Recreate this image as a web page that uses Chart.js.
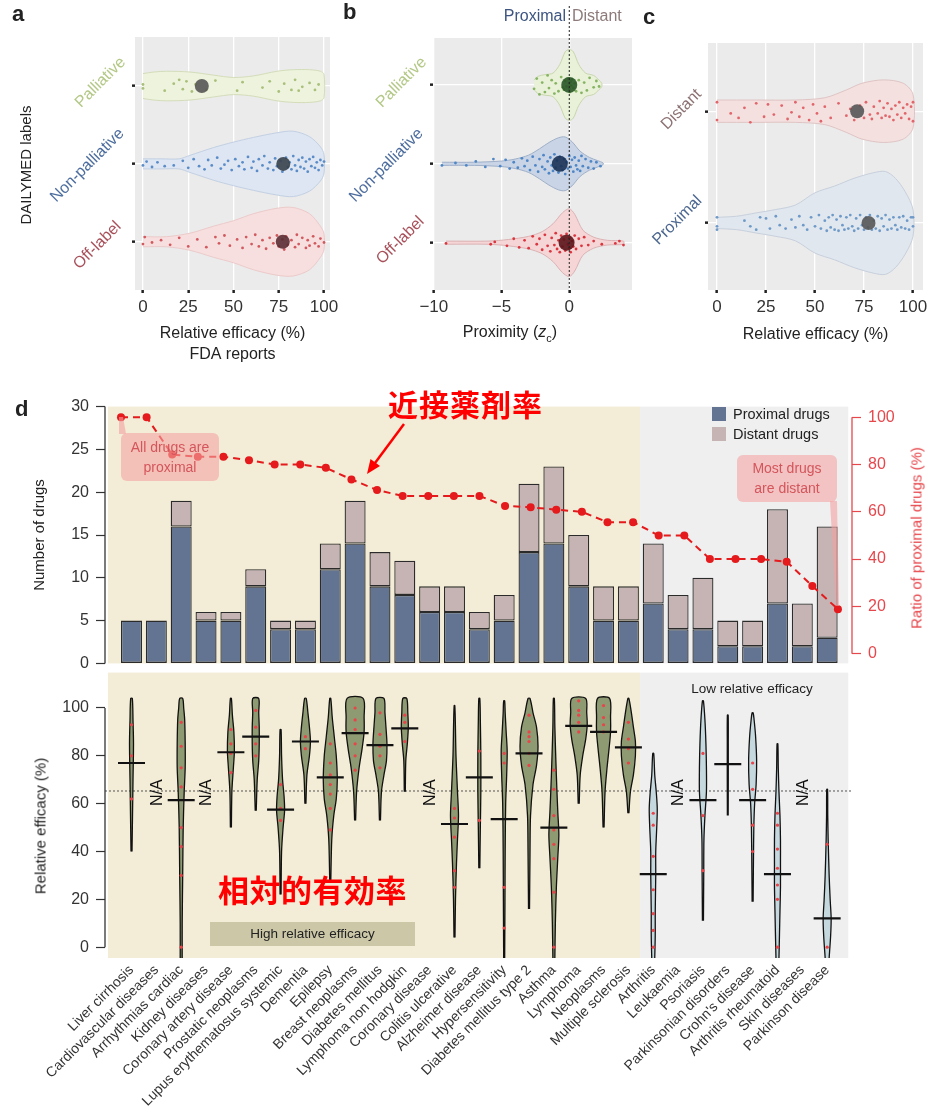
<!DOCTYPE html>
<html><head><meta charset="utf-8">
<script src="https://cdn.jsdelivr.net/npm/chart.js@4.4.1/dist/chart.umd.min.js"></script>
<style>
html,body{margin:0;padding:0}
body{width:929px;height:1115px;position:relative;background:#fff;overflow:hidden;font-family:"Liberation Sans",Arial,Helvetica,sans-serif;color:#222}
canvas{position:absolute}
.t{position:absolute;white-space:nowrap;line-height:1}
.c{transform:translate(-50%,-50%)}
.r45{transform:translate(-50%,-50%) rotate(-45deg)}
.r90{transform:translate(-50%,-50%) rotate(-90deg)}
.box{position:absolute;background:rgba(244,165,163,0.6);border-radius:6px;color:#d4555c;font-size:14px;text-align:center;line-height:20px}
.cjk{position:absolute;font-family:"Noto Sans CJK JP","Noto Sans CJK SC",sans-serif;font-weight:bold;color:#ff0000;white-space:nowrap;line-height:1}
</style></head>
<body>
<canvas id="ca" width="345" height="370" style="left:0;top:0"></canvas>
<canvas id="cb" width="300" height="350" style="left:340px;top:0"></canvas>
<canvas id="cc" width="300" height="350" style="left:635px;top:0"></canvas>
<canvas id="cd1" width="929" height="290" style="left:0;top:390px"></canvas>
<canvas id="cd2" width="929" height="459" style="left:0;top:656px"></canvas>
<div id="overlay"></div>
<script>
// ================= DATA =================
// panels a / b : DAILYMED label groups
const abCategories = ['Palliative', 'Non-palliative', 'Off-label'];
const aMeans = [32.5, 77.5, 77.2];
const bMeans = [0.0, -0.7, -0.2];
// violin outlines: [value, half-width (category units)]
const aProfiles = [
  [[0,0.16],[6,0.18],[13,0.19],[26,0.18],[39,0.14],[50,0.11],[61,0.13],[74,0.19],[83,0.21],[92,0.21],[98,0.19],[100,0.15]],
  [[0,0.065],[10,0.065],[20,0.065],[26,0.11],[39,0.21],[50,0.28],[61,0.34],[74,0.4],[83,0.42],[92,0.35],[98,0.22],[100,0.12]],
  [[0,0.065],[13,0.065],[26,0.11],[39,0.2],[50,0.27],[61,0.36],[74,0.43],[83,0.44],[92,0.36],[98,0.2],[100,0.1]]
];
const bProfiles = [
  [[-2.6,0.06],[-2.3,0.11],[-1.8,0.13],[-1.2,0.15],[-0.7,0.26],[-0.3,0.42],[0,0.45],[0.3,0.42],[0.7,0.26],[1.2,0.15],[1.8,0.12],[2.2,0.06],[2.4,0.02]],
  [[-9.4,0.02],[-7,0.02],[-5,0.035],[-4,0.06],[-3,0.11],[-2.2,0.19],[-1.5,0.27],[-0.8,0.33],[-0.3,0.34],[0.2,0.28],[0.8,0.16],[1.5,0.08],[2.1,0.04],[2.5,0.01]],
  [[-9.1,0.02],[-6,0.02],[-4.5,0.04],[-3,0.08],[-2,0.14],[-1.2,0.24],[-0.5,0.38],[0,0.43],[0.4,0.36],[1,0.16],[1.8,0.07],[2.8,0.03],[4,0.02]]
];
// individual drugs: [value, jitter]
const aPoints = [
  [[0,-0.02],[0,0.03],[12,0.06],[17,-0.03],[20,-0.08],[22,0.04],[24,-0.06],[27,0.07],[29,-0.02],[35,0.05],[40,-0.07],[52,0.06],[55,-0.05],[66,0.02],[70,-0.06],[75,0.07],[78,-0.03],[82,0.05],[84,-0.08],[86,0.06],[88,0.01],[92,-0.04],[95,0.05],[97,-0.02]],
  [[0,0.02],[2,-0.03],[5,0.04],[8,-0.02],[12,0.03],[17,0.02],[22,-0.04],[25,0.05],[28,-0.06],[31,0.03],[34,0.07],[36,-0.05],[38,0.02],[41,-0.08],[43,0.06],[45,0.01],[47,-0.04],[49,0.08],[51,-0.06],[53,0.03],[55,-0.02],[56,0.07],[58,-0.09],[60,0.05],[61,-0.03],[63,0.09],[64,-0.06],[66,0.02],[67,-0.1],[69,0.06],[70,-0.02],[72,0.08],[73,-0.07],[74,0.03],[76,-0.04],[77,0.1],[79,-0.08],[80,0.04],[81,-0.02],[82,0.07],[83,-0.1],[84,0.02],[85,0.09],[86,-0.05],[87,0.04],[88,-0.08],[89,0.06],[90,-0.03],[91,0.1],[92,-0.06],[93,0.03],[94,-0.09],[95,0.05],[96,-0.02],[97,0.08],[98,-0.05],[99,0.02],[100,-0.03]],
  [[0,0.03],[1,-0.06],[5,0.01],[10,-0.02],[15,0.04],[20,-0.05],[25,0.06],[30,-0.03],[35,0.07],[40,-0.06],[42,0.02],[45,-0.08],[48,0.05],[52,-0.03],[55,0.08],[57,-0.06],[60,0.03],[62,-0.09],[64,0.06],[66,-0.02],[68,0.09],[70,-0.05],[72,0.02],[74,-0.08],[75,0.06],[77,-0.03],[78,0.1],[79,-0.07],[80,0.04],[82,-0.02],[84,0.07],[85,-0.09],[86,0.03],[88,-0.05],[90,0.08],[91,-0.02],[92,0.05],[94,-0.07],[95,0.02],[97,0.06],[98,-0.04],[100,0.01]]
];
const bPoints = [
  [[-2.6,0.05],[-2.4,-0.08],[-2.2,0.12],[-2,-0.03],[-1.8,0.09],[-1.6,-0.12],[-1.5,0.04],[-1.3,-0.06],[-1.1,0.11],[-1,-0.02],[-0.8,0.08],[-0.6,-0.1],[-0.5,0.03],[-0.4,0.06],[-0.3,-0.05],[-0.2,0.02],[-0.1,-0.08],[0,0.05],[0,-0.02],[0.05,0.09],[0.1,-0.04],[0.15,0.01],[0.2,-0.07],[0.3,0.04],[0.4,-0.02],[0.5,0.08],[0.7,-0.06],[0.9,0.1],[1.1,-0.03],[1.3,0.07],[1.5,-0.09],[1.8,0.03],[2,-0.05],[2.2,0.02]],
  [[-9.4,0.02],[-8.4,-0.01],[-7.6,0.02],[-6.9,-0.03],[-6.2,0.04],[-5.6,-0.06],[-5.1,0.03],[-4.7,-0.05],[-4.4,0.06],[-4.1,-0.02],[-3.8,0.05],[-3.5,-0.07],[-3.3,0.03],[-3.1,-0.04],[-2.9,0.08],[-2.7,-0.09],[-2.5,0.02],[-2.3,0.1],[-2.2,-0.06],[-2,0.04],[-1.9,-0.11],[-1.8,0.07],[-1.6,-0.03],[-1.5,0.12],[-1.4,-0.08],[-1.3,0.02],[-1.2,0.09],[-1.1,-0.12],[-1,0.05],[-0.9,-0.04],[-0.8,0.11],[-0.7,-0.09],[-0.6,0.03],[-0.5,0.08],[-0.4,-0.06],[-0.3,0.13],[-0.2,-0.02],[-0.1,0.06],[0,-0.1],[0.1,0.04],[0.2,-0.05],[0.3,0.1],[0.4,-0.08],[0.5,0.02],[0.6,0.07],[0.7,-0.04],[0.8,0.09],[0.9,-0.1],[1,0.03],[1.2,-0.06],[1.4,0.05],[1.6,-0.03],[1.8,0.06],[2,-0.02],[2.3,0.03]],
  [[-9.1,0.01],[-5.8,0.02],[-5.5,-0.01],[-4.6,0.04],[-4.1,-0.05],[-3.7,0.06],[-3.3,-0.03],[-3,0.07],[-2.7,-0.08],[-2.4,0.02],[-2.2,-0.05],[-2,0.09],[-1.8,-0.1],[-1.6,0.04],[-1.4,0.11],[-1.3,-0.06],[-1.1,0.03],[-1,-0.12],[-0.9,0.08],[-0.8,-0.03],[-0.7,0.12],[-0.6,-0.09],[-0.5,0.05],[-0.4,-0.04],[-0.3,0.1],[-0.2,-0.11],[-0.1,0.02],[0,0.07],[0,-0.06],[0.1,0.12],[0.2,-0.02],[0.3,0.05],[0.4,-0.09],[0.5,0.08],[0.7,-0.05],[0.9,0.04],[1.1,-0.07],[1.4,0.03],[1.8,-0.02],[2.4,0.02],[3.4,0.01],[3.7,-0.02],[4,0.03]]
];
// panel c : proximity groups
const cCategories = ['Distant', 'Proximal'];
const cMeans = [71.5, 77.3];
const cProfiles = [
  [[0,0.1],[20,0.1],[40,0.1],[55,0.12],[66,0.19],[74,0.25],[85,0.28],[95,0.25],[100,0.15]],
  [[0,0.05],[10,0.06],[20,0.09],[30,0.12],[40,0.16],[50,0.27],[60,0.33],[70,0.4],[80,0.45],[86,0.46],[91,0.4],[96,0.28],[100,0.12]]
];
const cPoints = [
  [[0,0.08],[0,-0.08],[7,0.02],[11,0.06],[14,-0.03],[17,0.1],[20,-0.07],[24,0.05],[26,-0.06],[29,0.03],[33,-0.05],[36,0.07],[38,0.01],[40,-0.08],[42,0.05],[44,-0.03],[47,0.08],[49,-0.06],[51,0.02],[53,0.09],[55,-0.04],[58,0.06],[62,-0.07],[66,0.04],[68,-0.02],[70,0.08],[73,-0.05],[75,0.06],[76,-0.08],[78,0.03],[79,0.07],[80,-0.04],[82,0.02],[83,-0.09],[84,0.06],[85,-0.03],[86,0.04],[87,-0.07],[88,0.05],[89,-0.02],[90,0.08],[91,-0.05],[92,0.03],[93,-0.08],[94,0.06],[95,-0.03],[96,0.02],[97,-0.06],[98,0.07],[99,-0.04],[100,0.09],[100,-0.08]],
  [[0,0.03],[0,-0.05],[0,0.06],[14,-0.02],[17,0.03],[20,0.06],[22,-0.05],[25,-0.04],[27,0.05],[30,-0.06],[32,0.02],[35,0.05],[38,-0.03],[40,0.04],[42,-0.06],[44,0.02],[46,0.06],[48,-0.05],[50,0.03],[52,-0.07],[53,0.05],[55,-0.02],[56,0.07],[57,-0.05],[58,0.04],[59,-0.07],[60,0.06],[61,-0.03],[62,0.07],[63,-0.06],[64,0.02],[65,0.06],[66,-0.05],[67,0.05],[68,-0.07],[69,0.03],[70,0.07],[71,-0.04],[72,0.05],[73,-0.07],[74,0.02],[75,0.06],[76,-0.05],[77,0.04],[78,-0.07],[79,0.06],[80,-0.02],[81,0.05],[82,-0.06],[83,0.07],[84,-0.04],[85,0.03],[86,-0.07],[87,0.06],[88,-0.03],[89,0.05],[90,-0.05],[91,0.02],[92,0.06],[93,-0.05],[94,0.04],[95,-0.06],[96,0.05],[97,-0.02],[98,0.06],[99,-0.05],[100,0.03],[100,-0.05]]
];
// panel d : diseases
const diseases = ['Liver cirrhosis','Cardiovascular diseases','Arrhythmias cardiac','Kidney diseases','Coronary artery disease','Prostatic neoplasms','Lupus erythematosus systemic','Dementia','Epilepsy','Breast neoplasms','Diabetes mellitus','Lymphoma non hodgkin','Coronary disease','Colitis ulcerative','Alzheimer disease','Hypersensitivity','Diabetes mellitus type 2','Asthma','Lymphoma','Neoplasms','Multiple sclerosis','Arthritis','Leukaemia','Psoriasis','Parkinsonian disorders',"Crohn's disease",'Arthritis rheumatoid','Skin diseases','Parkinson disease'];
const proximalDrugs = [5,5,16,5,5,9,4,4,11,14,9,8,6,6,4,5,13,14,9,5,5,7,4,4,2,2,7,2,3];
const distantDrugs  = [0,0,3,1,1,2,1,1,3,5,4,4,3,3,2,3,8,9,6,4,4,7,4,6,3,3,11,5,13];
const proximalRatio = [100,100,84.2,83.3,83.3,81.8,80,80,78.6,73.7,69.2,66.7,66.7,66.7,66.7,62.5,61.9,60.9,60,55.6,55.6,50,50,40,40,40,38.9,28.6,18.8];
const efficacyMedian = [77,null,61.5,null,81.5,88,57.5,86,71,89.5,84.5,91.5,null,51.5,71,53.5,81,50,92.5,90,83.5,30.5,null,61.5,76.5,61.5,30.5,null,12];
const efficacyDots = [[93,80,62],[],[94,84,75,67,50,42,30,0],[],[91,85,81,73],[99,92,85,80],[68,58,53],[88,83],[85,77,72,68,64,58,49],[100,95,91,85,80,74],[98,89,84,80,75],[97,94,86],[],[58,54,46,32,25],[82,53],[81,77,25,8],[97,90,88,86,81,76],[74,66,55,49,43,37,23,0],[103,99,97,94,90],[101,96,93,90],[94,87,83,77],[56,51,38,24,14,7,0],[],[81,55,32],[],[77,66,51,40],[56,51,41,33,26,20,0],[],[43,0]];
// violin outlines of relative efficacy: [value, half-width density]
const efficacyProfiles = [
  [[40,0.5],[55,1],[70,1.5],[85,2],[95,1.5],[104,0.8]],
  null,
  [[-4.5,1],[10,1],[30,1.5],[50,2],[65,3],[75,4],[85,4],[95,3.5],[100,2.5],[104,1.5]],
  null,
  [[50,0.5],[65,1],[75,2.5],[82,3.5],[90,3],[97,1.5],[104,0.5]],
  [[57,0.5],[70,1.5],[78,3],[85,3.5],[92,3.5],[98,3],[104,3]],
  [[22,0.5],[40,1],[50,2.5],[57,4],[63,3.5],[70,2],[80,1],[91,0.5]],
  [[60,0.5],[72,1.5],[80,4],[86,5],[92,4],[98,2.5],[104,0.8]],
  [[27,0.5],[45,1.5],[55,3.5],[62,6],[70,7],[80,6],[88,4],[96,2],[104,0.5]],
  [[53,0.5],[65,1.5],[75,4],[83,7],[90,9],[96,9],[104,8]],
  [[53,0.5],[65,1.5],[72,4],[78,6.5],[85,7],[92,6],[98,5],[104,4]],
  [[65,0.5],[78,1],[85,2.5],[92,3.5],[98,3],[104,2]],
  null,
  [[4,0.5],[20,1],[35,2],[45,3],[55,4],[65,3],[80,1.5],[95,0.8],[101,0.3]],
  [[33,0.5],[50,1],[65,1.5],[80,1.5],[95,1],[104,0.5]],
  [[-4.5,0.5],[20,0.8],[40,1],[60,1.5],[72,2.5],[82,3],[90,2],[98,1],[103,0.5]],
  [[16,0.5],[40,1],[55,1.5],[68,4],[76,7.5],[84,9],[92,7.5],[98,4],[104,1]],
  [[-4.5,1],[10,1.5],[25,2.5],[38,4],[47,5],[56,4],[66,3],[78,2],[92,1],[104,0.5]],
  [[60,0.5],[72,1.5],[80,4],[87,7],[93,8.5],[98,8],[104,7]],
  [[50,0.5],[65,1.5],[75,3.5],[83,5.5],[90,7],[96,7],[104,6]],
  [[56,0.5],[65,2],[72,5],[80,7],[86,7],[92,5],[98,3],[104,0.5]],
  [[-4.5,1.5],[5,2],[15,2],[30,2.5],[40,2.5],[50,3.5],[58,4],[65,3],[72,1.5],[81,0.5]],
  null,
  [[11,0.5],[30,0.8],[45,1],[55,2],[65,3.5],[75,3.5],[85,3],[95,2],[103,0.5]],
  [[55,0.4],[70,0.5],[85,0.5],[97,0.4]],
  [[19,0.5],[35,0.8],[50,1.2],[60,2],[68,3.5],[78,4],[88,3],[95,1.5],[98,0.5]],
  [[-4.5,1.5],[5,2],[15,2.5],[25,3],[35,3],[45,3],[55,2.5],[65,1.5],[75,0.8],[85,0.4]],
  null,
  [[-4.5,2],[5,3.5],[12,4],[20,3],[30,2],[45,1],[55,0.6],[66,0.4]]
];
const efficacyThreshold = 65.3;
const leftTicksTop = [0,5,10,15,20,25,30];
const rightTicksTop = [0,20,40,60,80,100];
const efficacyTicks = [0,20,40,60,80,100];
const aTicks = [0,25,50,75,100];
const bTicks = [-10,-5,0];

// ================= STYLE / HELPERS =================
const FONT = '"Liberation Sans", Arial, Helvetica, sans-serif';
Chart.defaults.font.family = FONT;
Chart.defaults.color = '#333';
Chart.defaults.animation = false;
Chart.defaults.responsive = false;
Chart.defaults.plugins.legend.display = false;
Chart.defaults.plugins.tooltip.enabled = false;

const setTicks = vals => s => { s.ticks = vals.map(v => ({value: v})); };
const minus = v => v < 0 ? '\u2212' + Math.abs(v) : String(v);

const panelBg = {id:'panelBg', beforeDraw(chart, args, o){ if(!o || !o.color) return; const a=chart.chartArea, c=chart.ctx; c.save(); c.fillStyle=o.color; c.fillRect(a.left,a.top,a.width,a.height); c.restore(); }};
const zeroLine = {id:'zeroLine', afterDatasetsDraw(chart, args, o){ if(!o || o.value===undefined) return; const c=chart.ctx, x=chart.scales.x.getPixelForValue(o.value); c.save(); c.strokeStyle='#222'; c.lineWidth=1; c.setLineDash([2,2]); c.beginPath(); c.moveTo(x,o.from); c.lineTo(x,chart.chartArea.bottom); c.stroke(); c.restore(); }};
const bands = {id:'bands', beforeDatasetsDraw(chart, args, o){ if(!o || !o.items) return; const c=chart.ctx, xs=chart.scales.x, a=chart.chartArea; c.save(); o.items.forEach(b=>{ const x0=xs.getPixelForValue(b.from), x1=xs.getPixelForValue(b.to); c.fillStyle=b.color; c.fillRect(x0,a.top,x1-x0,a.height); }); c.restore(); }};
const axisLines = {id:'axisLines', afterDraw(chart, args, o){ if(!o || !o.items) return; const c=chart.ctx; c.save(); o.items.forEach(l=>{ const s=chart.scales[l.scale]; const x = l.side==='left' ? s.right : s.left; c.strokeStyle=l.color; c.lineWidth=1.3; c.beginPath(); c.moveTo(x, s.getPixelForValue(l.from)); c.lineTo(x, s.getPixelForValue(l.to)); c.stroke(); }); c.restore(); }};
const naLabels = {id:'naLabels', afterDatasetsDraw(chart, args, o){ if(!o || !o.items) return; const c=chart.ctx, xs=chart.scales.x, ys=chart.scales.y; c.save(); c.fillStyle='#111'; c.font='16px '+FONT; c.textAlign='center'; c.textBaseline='middle'; o.items.forEach(i=>{ c.save(); c.translate(xs.getPixelForValue(i)+1, ys.getPixelForValue(o.at)); c.rotate(-Math.PI/2); c.fillText('N/A',0,0); c.restore(); }); c.restore(); }};
Chart.register(panelBg, zeroLine, bands, axisLines, naLabels);

function hViolin(profile, c){
  const up = profile.map(([x,w]) => ({x, y: c - w}));
  const dn = profile.slice().reverse().map(([x,w]) => ({x, y: c + w}));
  return up.concat(dn);
}
function vViolin(profile, c, k){
  const r = profile.map(([y,w]) => ({x: c + w/k, y}));
  const l = profile.slice().reverse().map(([y,w]) => ({x: c - w/k, y}));
  return r.concat(l);
}
function groupSets(profile, pts, mean, c, st){
  return [
    {data: hViolin(profile, c), showLine:true, fill:'shape', backgroundColor:st.fill, borderColor:st.line, borderWidth:1, pointRadius:0, tension:0.3, order:3},
    {data: pts.map(([x,d]) => ({x, y: c + d})), pointRadius:1.4, pointBackgroundColor:st.pt, pointBorderWidth:0, order:2},
    {data: [{x: mean, y: c}], pointRadius:st.mr, pointBackgroundColor:st.mean, pointBorderWidth:0, order:1}
  ];
}
function smallOptions(o){
  return {
    layout:{padding:{top:o.top, right:o.right, bottom:2, left:0}},
    plugins:{panelBg:{color:'#ebebeb'}, zeroLine:o.zero||{}},
    scales:{
      x:{type:'linear', min:o.xmin, max:o.xmax, afterBuildTicks:setTicks(o.xticks), afterFit:s=>{s.height=o.xh;},
         ticks:{font:{size:17}, color:'#333', padding:4, callback:v=>minus(v)},
         grid:{color:'#ffffff', lineWidth:1.3, tickColor:'#222', tickLength:3, tickWidth:2.5},
         border:{display:false},
         title: o.xtitle ? {display:true, text:o.xtitle, font:{size:16, lineHeight:1.3}, color:'#222', padding:{top:0,bottom:3}} : {display:false}},
      y:{type:'linear', reverse:true, min:o.ymin, max:o.ymax, afterBuildTicks:setTicks(o.yticks), afterFit:s=>{s.width=o.yw;},
         ticks:{display:false}, grid:{color:'#ffffff', lineWidth:1.3, tickColor:'#222', tickLength:3, tickWidth:2.5}, border:{display:false}}
    }
  };
}

// ---------- panel a ----------
const aStyles = [
  {fill:'#eef3de', line:'#d3ddb9', pt:'#a9c07a', mean:'rgba(85,85,85,0.9)', mr:7},
  {fill:'#dde6f2', line:'#c3d0e3', pt:'#5b8cc8', mean:'rgba(55,65,75,0.9)', mr:7},
  {fill:'#f8dfdf', line:'#eccaca', pt:'#d05a5f', mean:'rgba(90,45,52,0.9)', mr:7}
];
new Chart(document.getElementById('ca'), {
  type:'scatter',
  data:{datasets: abCategories.flatMap((n,i) => groupSets(aProfiles[i], aPoints[i], aMeans[i], i+1, aStyles[i]))},
  options: smallOptions({top:37, right:15, xmin:-4.4, xmax:103.3, xticks:aTicks, xh:78, xtitle:['Relative efficacy (%)','FDA reports'], ymin:0.37, ymax:3.62, yticks:[1,2,3], yw:135})
});
// ---------- panel b ----------
const bStyles = [
  {fill:'#e9f2d9', line:'#c8d6ad', pt:'#87b463', mean:'rgba(40,85,38,0.9)', mr:8},
  {fill:'#c9d5e6', line:'#9fb0c9', pt:'#4f86c6', mean:'rgba(25,50,85,0.9)', mr:8},
  {fill:'#f5d5d6', line:'#dcb2b4', pt:'#d9363f', mean:'rgba(90,20,25,0.9)', mr:8}
];
new Chart(document.getElementById('cb'), {
  type:'scatter',
  data:{datasets: abCategories.flatMap((n,i) => groupSets(bProfiles[i], bPoints[i], bMeans[i], i+1, bStyles[i]))},
  options: smallOptions({top:38, right:8, xmin:-10.06, xmax:4.63, xticks:bTicks, xh:58, ymin:0.405, ymax:3.6, yticks:[1,2,3], yw:93, zero:{value:0, from:6}})
});
// ---------- panel c ----------
const cStyles = [
  {fill:'#f5e0e0', line:'#e0c4c4', pt:'#e0666b', mean:'rgba(85,85,85,0.9)', mr:7},
  {fill:'#e1e7ef', line:'#c7d0dc', pt:'#6f9ac8', mean:'rgba(85,85,85,0.9)', mr:7}
];
new Chart(document.getElementById('cc'), {
  type:'scatter',
  data:{datasets: cCategories.flatMap((n,i) => groupSets(cProfiles[i], cPoints[i], cMeans[i], i+1, cStyles[i]))},
  options: smallOptions({top:43, right:12, xmin:-4.6, xmax:105.1, xticks:aTicks, xh:58, xtitle:'Relative efficacy (%)', ymin:0.39, ymax:2.6, yticks:[1,2], yw:73})
});

// ---------- panel d (top) ----------
const DX = {min:-1.067, max:29.0};
const bandItems = [{from:-0.95, to:20.47, color:'#f3ecd6'}, {from:20.47, to:28.85, color:'#efefef'}];
const RED = '#e6474c';
const barStyle = {borderColor:'#2b2b2b', borderWidth:1.3, borderSkipped:false, grouped:false, barPercentage:0.85, categoryPercentage:1, maxBarThickness:21, order:1};
new Chart(document.getElementById('cd1'), {
  type:'bar',
  data:{datasets:[
    {type:'line', label:'Ratio of proximal drugs', data: proximalRatio.map((v,i)=>({x:i,y:v})), xAxisID:'x2', yAxisID:'y1',
     borderColor:'#e41a1c', borderWidth:2, borderDash:[7,5], pointRadius:4, pointBackgroundColor:'#e41a1c', pointBorderWidth:0, fill:false, tension:0, order:0},
    Object.assign({label:'Proximal drugs', data: proximalDrugs.map((v,i)=>({x:i,y:v})), backgroundColor:'#627491'}, barStyle),
    Object.assign({label:'Distant drugs', data: distantDrugs.map((v,i)=>({x:i,y:v})), backgroundColor:'#c6b3b4'}, barStyle)
  ]},
  options:{
    layout:{padding:{top:15, bottom:12, left:0, right:0}},
    plugins:{bands:{items:bandItems}, axisLines:{items:[{scale:'y', side:'left', from:0, to:30, color:'#333'}, {scale:'y1', side:'right', from:0, to:100, color:RED}]}},
    scales:{
      x:{type:'linear', min:DX.min, max:DX.max, stacked:true, offset:false, display:false, grid:{offset:false}},
      x2:{type:'linear', min:-0.625, max:28.55, offset:false, display:false, grid:{offset:false}},
      y:{type:'linear', stacked:true, min:0, max:30, position:'left', afterBuildTicks:setTicks(leftTicksTop), afterFit:s=>{s.width=105;},
         ticks:{font:{size:16}, color:'#333', padding:7},
         grid:{drawOnChartArea:false, tickLength:9, tickColor:'#333', tickWidth:1.2},
         border:{display:false},
         title:{display:true, text:'Number of drugs', font:{size:15}, color:'#222', padding:{top:31, bottom:0}}},
      y1:{type:'linear', min:-4.13, max:104.5, position:'right', afterBuildTicks:setTicks(rightTicksTop), afterFit:s=>{s.width=77;},
         ticks:{font:{size:16}, color:RED, padding:7},
         grid:{drawOnChartArea:false, tickLength:9, tickColor:RED, tickWidth:1.2},
         border:{display:false}}
    }
  }
});

// ---------- panel d (bottom) ----------
const VK = 24.84;
const vSets = [];
vSets.push({data:[{x:DX.min,y:efficacyThreshold},{x:DX.max,y:efficacyThreshold}], showLine:true, borderColor:'#555', borderWidth:1, borderDash:[2,2], pointRadius:0, order:10});
efficacyProfiles.forEach((p,i) => {
  if(!p) return;
  vSets.push({data:vViolin(p,i,VK), showLine:true, fill:'shape', backgroundColor: i<=20 ? '#8e9a71' : '#c5d8de', borderColor:'#111', borderWidth:1.3, pointRadius:0, tension:0.3, order:5});
});
vSets.push({data: efficacyDots.flatMap((arr,i)=>arr.map(v=>({x:i,y:v}))), pointRadius:1.6, pointBackgroundColor:'#e8444a', pointBorderWidth:0, order:2});
vSets.push({data: efficacyMedian.map((m,i)=>m===null?null:{x:i,y:m}).filter(Boolean), pointStyle:'line', pointRadius:13.5, pointBorderWidth:2.2, pointBorderColor:'#111', order:1});
new Chart(document.getElementById('cd2'), {
  type:'scatter',
  data:{datasets:vSets},
  options:{
    layout:{padding:{top:12, bottom:0, left:0, right:77}},
    plugins:{bands:{items:bandItems}, axisLines:{items:[{scale:'y', side:'left', from:0, to:100, color:'#333'}]},
             naLabels:{items: efficacyMedian.map((m,i)=>m===null?i:null).filter(v=>v!==null), at:64.6}},
    scales:{
      x:{type:'linear', min:DX.min, max:DX.max, afterBuildTicks:setTicks(diseases.map((d,i)=>i)), afterFit:s=>{s.height=157;},
         ticks:{autoSkip:false, maxRotation:45, minRotation:45, font:{size:14}, color:'#333', padding:4, callback:v=>diseases[v] ?? ''},
         grid:{display:false, drawTicks:false}, border:{display:false}},
      y:{type:'linear', min:-4.53, max:114.8, afterBuildTicks:setTicks(efficacyTicks), afterFit:s=>{s.width=105;},
         ticks:{font:{size:16}, color:'#333', padding:7},
         grid:{drawOnChartArea:false, tickLength:9, tickColor:'#333', tickWidth:1.2},
         border:{display:false}}
    }
  }
});

// ---------- text overlays ----------
const ov = document.getElementById('overlay');
function addText(html, css, cls){ const d=document.createElement('div'); d.className='t '+(cls||''); d.innerHTML=html; d.style.cssText=css; ov.appendChild(d); return d; }
addText('a','left:12px;top:3px;font-weight:bold;font-size:22px');
addText('b','left:343px;top:1px;font-weight:bold;font-size:22px');
addText('c','left:643px;top:6px;font-weight:bold;font-size:22px');
addText('d','left:15px;top:398px;font-weight:bold;font-size:22px');
addText('DAILYMED labels','left:25px;top:165px;font-size:15px;color:#222','r90');
const abColors = ['#b3c886','#4d6d9e','#a8505a'];
const aLabelPos = [[100,82],[87,165],[97,245]];
const bLabelPos = [[401,82],[386,165],[400,240]];
abCategories.forEach((n,i)=>{
  addText(n, `left:${aLabelPos[i][0]}px;top:${aLabelPos[i][1]}px;font-size:16px;color:${abColors[i]}`, 'r45');
  addText(n, `left:${bLabelPos[i][0]}px;top:${bLabelPos[i][1]}px;font-size:16px;color:${abColors[i]}`, 'r45');
});
const cColors = ['#8d7274','#4b6790'];
const cLabelPos = [[681,109],[677,220]];
cCategories.forEach((n,i)=> addText(n, `left:${cLabelPos[i][0]}px;top:${cLabelPos[i][1]}px;font-size:16px;color:${cColors[i]}`, 'r45'));
addText('Proximal','right:363px;top:8px;font-size:16px;color:#3d5580');
addText('Distant','left:572px;top:8px;font-size:16px;color:#8d7a7a');
addText('Proximity (<i>z</i><sub style="font-size:11px">c</sub>)','left:510px;top:334px;font-size:16px;color:#222','c');
// panel d legend + annotations
addText('<span style="display:inline-block;width:14px;height:14px;background:#627491;vertical-align:-2px;margin-right:7px"></span>Proximal drugs','left:712px;top:407px;font-size:14.5px;color:#222');
addText('<span style="display:inline-block;width:14px;height:14px;background:#c6b3b4;vertical-align:-2px;margin-right:7px"></span>Distant drugs','left:712px;top:427px;font-size:14.5px;color:#222');
addText('Ratio of proximal drugs (%)','left:916px;top:538px;font-size:15px;color:'+RED,'r90');
addText('Relative efficacy (%)','left:40px;top:826px;font-size:15px;color:#222','r90');
addText('Low relative efficacy','left:752px;top:689px;font-size:13.5px;color:#222','c');
addText('High relative efficacy','left:210px;top:922px;width:205px;height:24px;line-height:24px;text-align:center;font-size:13.5px;color:#222;background:rgba(170,170,130,0.55)');
const b1 = document.createElement('div'); b1.className='box'; b1.style.cssText='left:121px;top:433px;width:98px;height:48px;padding-top:4px;box-sizing:border-box'; b1.innerHTML='All drugs are<br>proximal'; ov.appendChild(b1);
const b2 = document.createElement('div'); b2.className='box'; b2.style.cssText='left:737px;top:455px;width:100px;height:47px;padding-top:3px;box-sizing:border-box'; b2.innerHTML='Most drugs<br>are distant'; ov.appendChild(b2);
const k1 = document.createElement('div'); k1.className='cjk'; k1.style.cssText='left:388px;top:388px;font-size:30px;letter-spacing:1px'; k1.textContent='近接薬剤率'; ov.appendChild(k1);
const k2 = document.createElement('div'); k2.className='cjk'; k2.style.cssText='left:218px;top:873px;font-size:31px;letter-spacing:0.5px'; k2.textContent='相対的有効率'; ov.appendChild(k2);
</script>
<svg width="929" height="1115" style="position:absolute;left:0;top:0;pointer-events:none">
  <polygon points="119,417 123,417 126,434 119,434" fill="rgba(244,160,160,0.6)"/>
  <polygon points="830,501 837,501 839,606 836,606" fill="rgba(244,160,160,0.6)"/>
  <line x1="404" y1="424" x2="375" y2="463" stroke="#ff0000" stroke-width="2.5"/>
  <polygon points="367,474 370.5,459 380,466" fill="#ff0000"/>
</svg>
</body></html>
